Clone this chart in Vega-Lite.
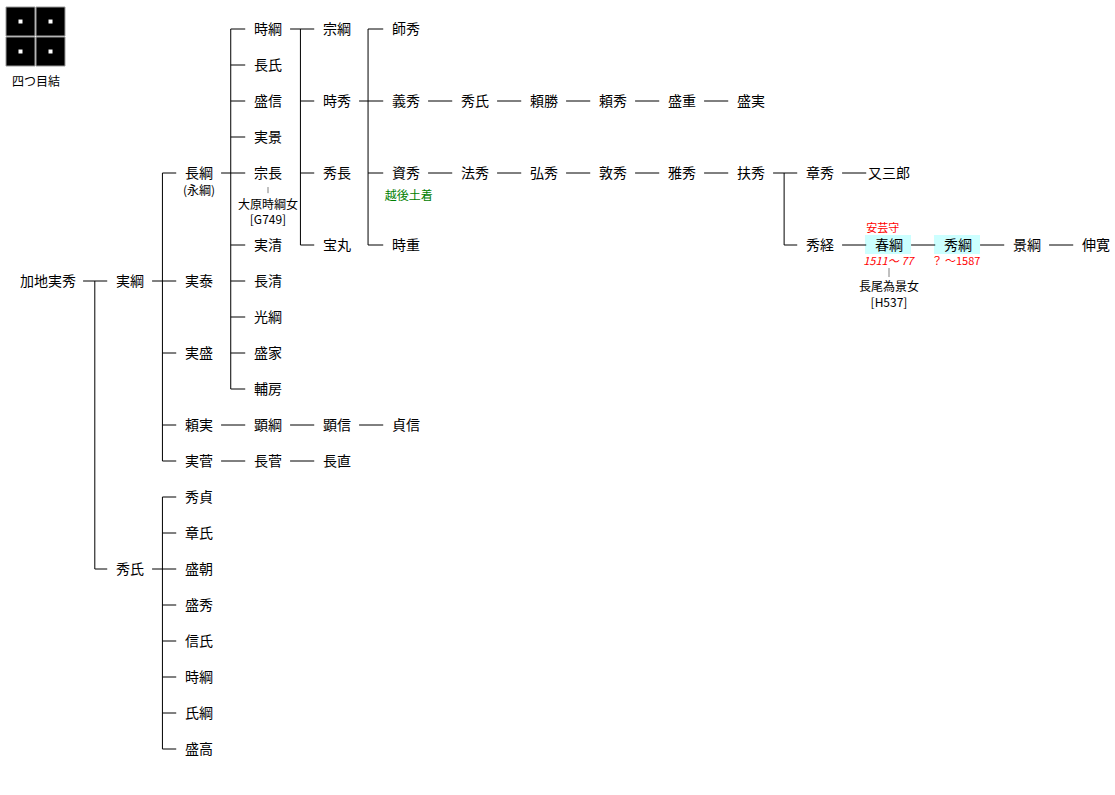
{
  "$schema": "https://vega.github.io/schema/vega-lite/v6.json",
  "width": 1115,
  "height": 795,
  "padding": 0,
  "autosize": {"type": "none"},
  "background": "#ffffff",
  "config": {"view": {"stroke": null}, "text": {"font": "Noto Sans CJK JP"}},
  "datasets": {
    "nodes": [
      {"name": "加地実秀", "col": -0.19, "row": 7},
      {"name": "実綱", "col": 1, "row": 7},
      {"name": "秀氏", "col": 1, "row": 15},
      {"name": "長綱", "col": 2, "row": 4},
      {"name": "実泰", "col": 2, "row": 7},
      {"name": "実盛", "col": 2, "row": 9},
      {"name": "頼実", "col": 2, "row": 11},
      {"name": "実菅", "col": 2, "row": 12},
      {"name": "秀貞", "col": 2, "row": 13},
      {"name": "章氏", "col": 2, "row": 14},
      {"name": "盛朝", "col": 2, "row": 15},
      {"name": "盛秀", "col": 2, "row": 16},
      {"name": "信氏", "col": 2, "row": 17},
      {"name": "時綱", "col": 2, "row": 18},
      {"name": "氏綱", "col": 2, "row": 19},
      {"name": "盛高", "col": 2, "row": 20},
      {"name": "時綱", "col": 3, "row": 0},
      {"name": "長氏", "col": 3, "row": 1},
      {"name": "盛信", "col": 3, "row": 2},
      {"name": "実景", "col": 3, "row": 3},
      {"name": "宗長", "col": 3, "row": 4},
      {"name": "実清", "col": 3, "row": 6},
      {"name": "長清", "col": 3, "row": 7},
      {"name": "光綱", "col": 3, "row": 8},
      {"name": "盛家", "col": 3, "row": 9},
      {"name": "輔房", "col": 3, "row": 10},
      {"name": "顕綱", "col": 3, "row": 11},
      {"name": "長菅", "col": 3, "row": 12},
      {"name": "宗綱", "col": 4, "row": 0},
      {"name": "時秀", "col": 4, "row": 2},
      {"name": "秀長", "col": 4, "row": 4},
      {"name": "宝丸", "col": 4, "row": 6},
      {"name": "顕信", "col": 4, "row": 11},
      {"name": "長直", "col": 4, "row": 12},
      {"name": "師秀", "col": 5, "row": 0},
      {"name": "義秀", "col": 5, "row": 2},
      {"name": "資秀", "col": 5, "row": 4},
      {"name": "時重", "col": 5, "row": 6},
      {"name": "貞信", "col": 5, "row": 11},
      {"name": "秀氏", "col": 6, "row": 2},
      {"name": "法秀", "col": 6, "row": 4},
      {"name": "頼勝", "col": 7, "row": 2},
      {"name": "弘秀", "col": 7, "row": 4},
      {"name": "頼秀", "col": 8, "row": 2},
      {"name": "敦秀", "col": 8, "row": 4},
      {"name": "盛重", "col": 9, "row": 2},
      {"name": "雅秀", "col": 9, "row": 4},
      {"name": "盛実", "col": 10, "row": 2},
      {"name": "扶秀", "col": 10, "row": 4},
      {"name": "章秀", "col": 11, "row": 4},
      {"name": "秀経", "col": 11, "row": 6},
      {"name": "又三郎", "col": 12, "row": 4},
      {"name": "春綱", "col": 12, "row": 6},
      {"name": "秀綱", "col": 13, "row": 6},
      {"name": "景綱", "col": 14, "row": 6},
      {"name": "伸寛", "col": 15, "row": 6}
    ],
    "notes": [
      {"text": "(永綱)", "col": 2, "row": 4.5, "kind": "note"},
      {"text": "大原時綱女", "col": 3, "row": 4.89, "kind": "note"},
      {"text": "[G749]", "col": 3, "row": 5.31, "kind": "note"},
      {"text": "長尾為景女", "col": 12, "row": 7.17, "kind": "note"},
      {"text": "[H537]", "col": 12, "row": 7.61, "kind": "note"},
      {"text": "四つ目結", "col": -0.362, "row": 1.47, "kind": "note"},
      {"text": "越後土着", "col": 5.04, "row": 4.64, "kind": "place"},
      {"text": "安芸守", "col": 11.91, "row": 5.56, "kind": "title"},
      {"text": "？ 〜1587", "col": 12.97, "row": 6.47, "kind": "title"},
      {"text": "1511〜 77", "col": 11.99, "row": 6.47, "kind": "years"}
    ],
    "segments": [
      {"x1": 5.32, "x2": 5.67, "y1": 2, "y2": 2, "kind": "line"},
      {"x1": 6.32, "x2": 6.67, "y1": 2, "y2": 2, "kind": "line"},
      {"x1": 7.32, "x2": 7.67, "y1": 2, "y2": 2, "kind": "line"},
      {"x1": 8.32, "x2": 8.67, "y1": 2, "y2": 2, "kind": "line"},
      {"x1": 9.32, "x2": 9.67, "y1": 2, "y2": 2, "kind": "line"},
      {"x1": 5.32, "x2": 5.67, "y1": 4, "y2": 4, "kind": "line"},
      {"x1": 6.32, "x2": 6.67, "y1": 4, "y2": 4, "kind": "line"},
      {"x1": 7.32, "x2": 7.67, "y1": 4, "y2": 4, "kind": "line"},
      {"x1": 8.32, "x2": 8.67, "y1": 4, "y2": 4, "kind": "line"},
      {"x1": 9.32, "x2": 9.67, "y1": 4, "y2": 4, "kind": "line"},
      {"x1": 11.32, "x2": 11.67, "y1": 4, "y2": 4, "kind": "line"},
      {"x1": 11.32, "x2": 11.67, "y1": 6, "y2": 6, "kind": "line"},
      {"x1": 12.32, "x2": 12.67, "y1": 6, "y2": 6, "kind": "line"},
      {"x1": 13.32, "x2": 13.67, "y1": 6, "y2": 6, "kind": "line"},
      {"x1": 14.32, "x2": 14.67, "y1": 6, "y2": 6, "kind": "line"},
      {"x1": 2.32, "x2": 2.67, "y1": 11, "y2": 11, "kind": "line"},
      {"x1": 3.32, "x2": 3.67, "y1": 11, "y2": 11, "kind": "line"},
      {"x1": 4.32, "x2": 4.67, "y1": 11, "y2": 11, "kind": "line"},
      {"x1": 2.32, "x2": 2.67, "y1": 12, "y2": 12, "kind": "line"},
      {"x1": 3.32, "x2": 3.67, "y1": 12, "y2": 12, "kind": "line"},

      {"x1": 0.32, "x2": 0.67, "y1": 7, "y2": 7, "kind": "line"},
      {"x1": 0.49, "x2": 0.49, "y1": 7, "y2": 15, "kind": "line"},
      {"x1": 0.49, "x2": 0.67, "y1": 15, "y2": 15, "kind": "line"},

      {"x1": 1.32, "x2": 1.67, "y1": 7, "y2": 7, "kind": "line"},
      {"x1": 1.47, "x2": 1.47, "y1": 4, "y2": 12, "kind": "line"},
      {"x1": 1.47, "x2": 1.67, "y1": 4, "y2": 4, "kind": "line"},
      {"x1": 1.47, "x2": 1.67, "y1": 9, "y2": 9, "kind": "line"},
      {"x1": 1.47, "x2": 1.67, "y1": 11, "y2": 11, "kind": "line"},
      {"x1": 1.47, "x2": 1.67, "y1": 12, "y2": 12, "kind": "line"},

      {"x1": 1.32, "x2": 1.67, "y1": 15, "y2": 15, "kind": "line"},
      {"x1": 1.47, "x2": 1.47, "y1": 13, "y2": 20, "kind": "line"},
      {"x1": 1.47, "x2": 1.67, "y1": 13, "y2": 13, "kind": "line"},
      {"x1": 1.47, "x2": 1.67, "y1": 14, "y2": 14, "kind": "line"},
      {"x1": 1.47, "x2": 1.67, "y1": 16, "y2": 16, "kind": "line"},
      {"x1": 1.47, "x2": 1.67, "y1": 17, "y2": 17, "kind": "line"},
      {"x1": 1.47, "x2": 1.67, "y1": 18, "y2": 18, "kind": "line"},
      {"x1": 1.47, "x2": 1.67, "y1": 19, "y2": 19, "kind": "line"},
      {"x1": 1.47, "x2": 1.67, "y1": 20, "y2": 20, "kind": "line"},

      {"x1": 2.32, "x2": 2.67, "y1": 4, "y2": 4, "kind": "line"},
      {"x1": 2.46, "x2": 2.46, "y1": 0, "y2": 10, "kind": "line"},
      {"x1": 2.46, "x2": 2.67, "y1": 0, "y2": 0, "kind": "line"},
      {"x1": 2.46, "x2": 2.67, "y1": 1, "y2": 1, "kind": "line"},
      {"x1": 2.46, "x2": 2.67, "y1": 2, "y2": 2, "kind": "line"},
      {"x1": 2.46, "x2": 2.67, "y1": 3, "y2": 3, "kind": "line"},
      {"x1": 2.46, "x2": 2.67, "y1": 6, "y2": 6, "kind": "line"},
      {"x1": 2.46, "x2": 2.67, "y1": 7, "y2": 7, "kind": "line"},
      {"x1": 2.46, "x2": 2.67, "y1": 8, "y2": 8, "kind": "line"},
      {"x1": 2.46, "x2": 2.67, "y1": 9, "y2": 9, "kind": "line"},
      {"x1": 2.46, "x2": 2.67, "y1": 10, "y2": 10, "kind": "line"},

      {"x1": 3.32, "x2": 3.67, "y1": 0, "y2": 0, "kind": "line"},
      {"x1": 3.47, "x2": 3.47, "y1": 0, "y2": 6, "kind": "line"},
      {"x1": 3.47, "x2": 3.67, "y1": 2, "y2": 2, "kind": "line"},
      {"x1": 3.47, "x2": 3.67, "y1": 4, "y2": 4, "kind": "line"},
      {"x1": 3.47, "x2": 3.67, "y1": 6, "y2": 6, "kind": "line"},

      {"x1": 4.32, "x2": 4.67, "y1": 2, "y2": 2, "kind": "line"},
      {"x1": 4.45, "x2": 4.45, "y1": 0, "y2": 6, "kind": "line"},
      {"x1": 4.45, "x2": 4.67, "y1": 0, "y2": 0, "kind": "line"},
      {"x1": 4.45, "x2": 4.67, "y1": 4, "y2": 4, "kind": "line"},
      {"x1": 4.45, "x2": 4.67, "y1": 6, "y2": 6, "kind": "line"},

      {"x1": 10.32, "x2": 10.67, "y1": 4, "y2": 4, "kind": "line"},
      {"x1": 10.48, "x2": 10.48, "y1": 4, "y2": 6, "kind": "line"},
      {"x1": 10.48, "x2": 10.67, "y1": 6, "y2": 6, "kind": "line"},

      {"x1": 3, "x2": 3, "y1": 4.39, "y2": 4.56, "kind": "spouse"},
      {"x1": 12, "x2": 12, "y1": 6.64, "y2": 6.89, "kind": "spouse"}
    ],
    "boxes": [
      {"name": "春綱", "x1": 11.652, "x2": 12.319, "y1": 5.722, "y2": 6.25},
      {"name": "秀綱", "x1": 12.652, "x2": 13.319, "y1": 5.722, "y2": 6.25}
    ],
    "crest": [
      {"x1": -0.797, "x2": -0.377, "y1": -0.611, "y2": 0.194},
      {"x1": -0.362, "x2": 0.058, "y1": -0.611, "y2": 0.194},
      {"x1": -0.797, "x2": -0.377, "y1": 0.222, "y2": 1.028},
      {"x1": -0.362, "x2": 0.058, "y1": 0.222, "y2": 1.028}
    ],
    "dots": [
      {"col": -0.587, "row": -0.208},
      {"col": -0.152, "row": -0.208},
      {"col": -0.587, "row": 0.625},
      {"col": -0.152, "row": 0.625}
    ]
  },
  "layer": [
    {
      "data": {"name": "boxes"},
      "mark": {"type": "rect", "color": "#ccffff"},
      "encoding": {
        "x": {"field": "x1", "type": "quantitative", "scale": {"domain": [-0.884058, 15.275362], "nice": false, "zero": false}, "axis": null},
        "x2": {"field": "x2"},
        "y": {"field": "y1", "type": "quantitative", "scale": {"domain": [-0.805556, 21.277778], "nice": false, "zero": false, "reverse": true}, "axis": null},
        "y2": {"field": "y2"}
      }
    },
    {
      "data": {"name": "crest"},
      "mark": {"type": "rect", "color": "#000000", "stroke": "#9a9a9a", "strokeWidth": 1},
      "encoding": {
        "x": {"field": "x1", "type": "quantitative", "axis": null},
        "x2": {"field": "x2"},
        "y": {"field": "y1", "type": "quantitative", "axis": null},
        "y2": {"field": "y2"}
      }
    },
    {
      "data": {"name": "dots"},
      "mark": {"type": "square", "color": "#ffffff", "size": 16, "opacity": 1},
      "encoding": {
        "x": {"field": "col", "type": "quantitative", "axis": null},
        "y": {"field": "row", "type": "quantitative", "axis": null}
      }
    },
    {
      "data": {"name": "segments"},
      "transform": [{"filter": "datum.kind == 'line'"}],
      "mark": {"type": "rule", "strokeWidth": 1, "color": "#000000"},
      "encoding": {
        "x": {"field": "x1", "type": "quantitative", "axis": null},
        "x2": {"field": "x2"},
        "y": {"field": "y1", "type": "quantitative", "axis": null},
        "y2": {"field": "y2"}
      }
    },
    {
      "data": {"name": "segments"},
      "transform": [{"filter": "datum.kind == 'spouse'"}],
      "mark": {"type": "rule", "strokeWidth": 1, "color": "#808080"},
      "encoding": {
        "x": {"field": "x1", "type": "quantitative", "axis": null},
        "x2": {"field": "x2"},
        "y": {"field": "y1", "type": "quantitative", "axis": null},
        "y2": {"field": "y2"}
      }
    },
    {
      "data": {"name": "nodes"},
      "mark": {"type": "text", "fontSize": 14, "align": "center", "baseline": "middle", "dy": 1, "color": "#000000"},
      "encoding": {
        "x": {"field": "col", "type": "quantitative", "axis": null},
        "y": {"field": "row", "type": "quantitative", "axis": null},
        "text": {"field": "name"}
      }
    },
    {
      "data": {"name": "notes"},
      "transform": [{"filter": "datum.kind == 'note'"}],
      "mark": {"type": "text", "fontSize": 12, "align": "center", "baseline": "middle", "color": "#000000"},
      "encoding": {
        "x": {"field": "col", "type": "quantitative", "axis": null},
        "y": {"field": "row", "type": "quantitative", "axis": null},
        "text": {"field": "text"}
      }
    },
    {
      "data": {"name": "notes"},
      "transform": [{"filter": "datum.kind == 'place'"}],
      "mark": {"type": "text", "fontSize": 12, "align": "center", "baseline": "middle", "color": "#008000"},
      "encoding": {
        "x": {"field": "col", "type": "quantitative", "axis": null},
        "y": {"field": "row", "type": "quantitative", "axis": null},
        "text": {"field": "text"}
      }
    },
    {
      "data": {"name": "notes"},
      "transform": [{"filter": "datum.kind == 'title'"}],
      "mark": {"type": "text", "fontSize": 11, "align": "center", "baseline": "middle", "color": "#ff0000"},
      "encoding": {
        "x": {"field": "col", "type": "quantitative", "axis": null},
        "y": {"field": "row", "type": "quantitative", "axis": null},
        "text": {"field": "text"}
      }
    },
    {
      "data": {"name": "notes"},
      "transform": [{"filter": "datum.kind == 'years'"}],
      "mark": {"type": "text", "fontSize": 11, "fontStyle": "italic", "align": "center", "baseline": "middle", "color": "#ff0000"},
      "encoding": {
        "x": {"field": "col", "type": "quantitative", "axis": null},
        "y": {"field": "row", "type": "quantitative", "axis": null},
        "text": {"field": "text"}
      }
    }
  ]
}
